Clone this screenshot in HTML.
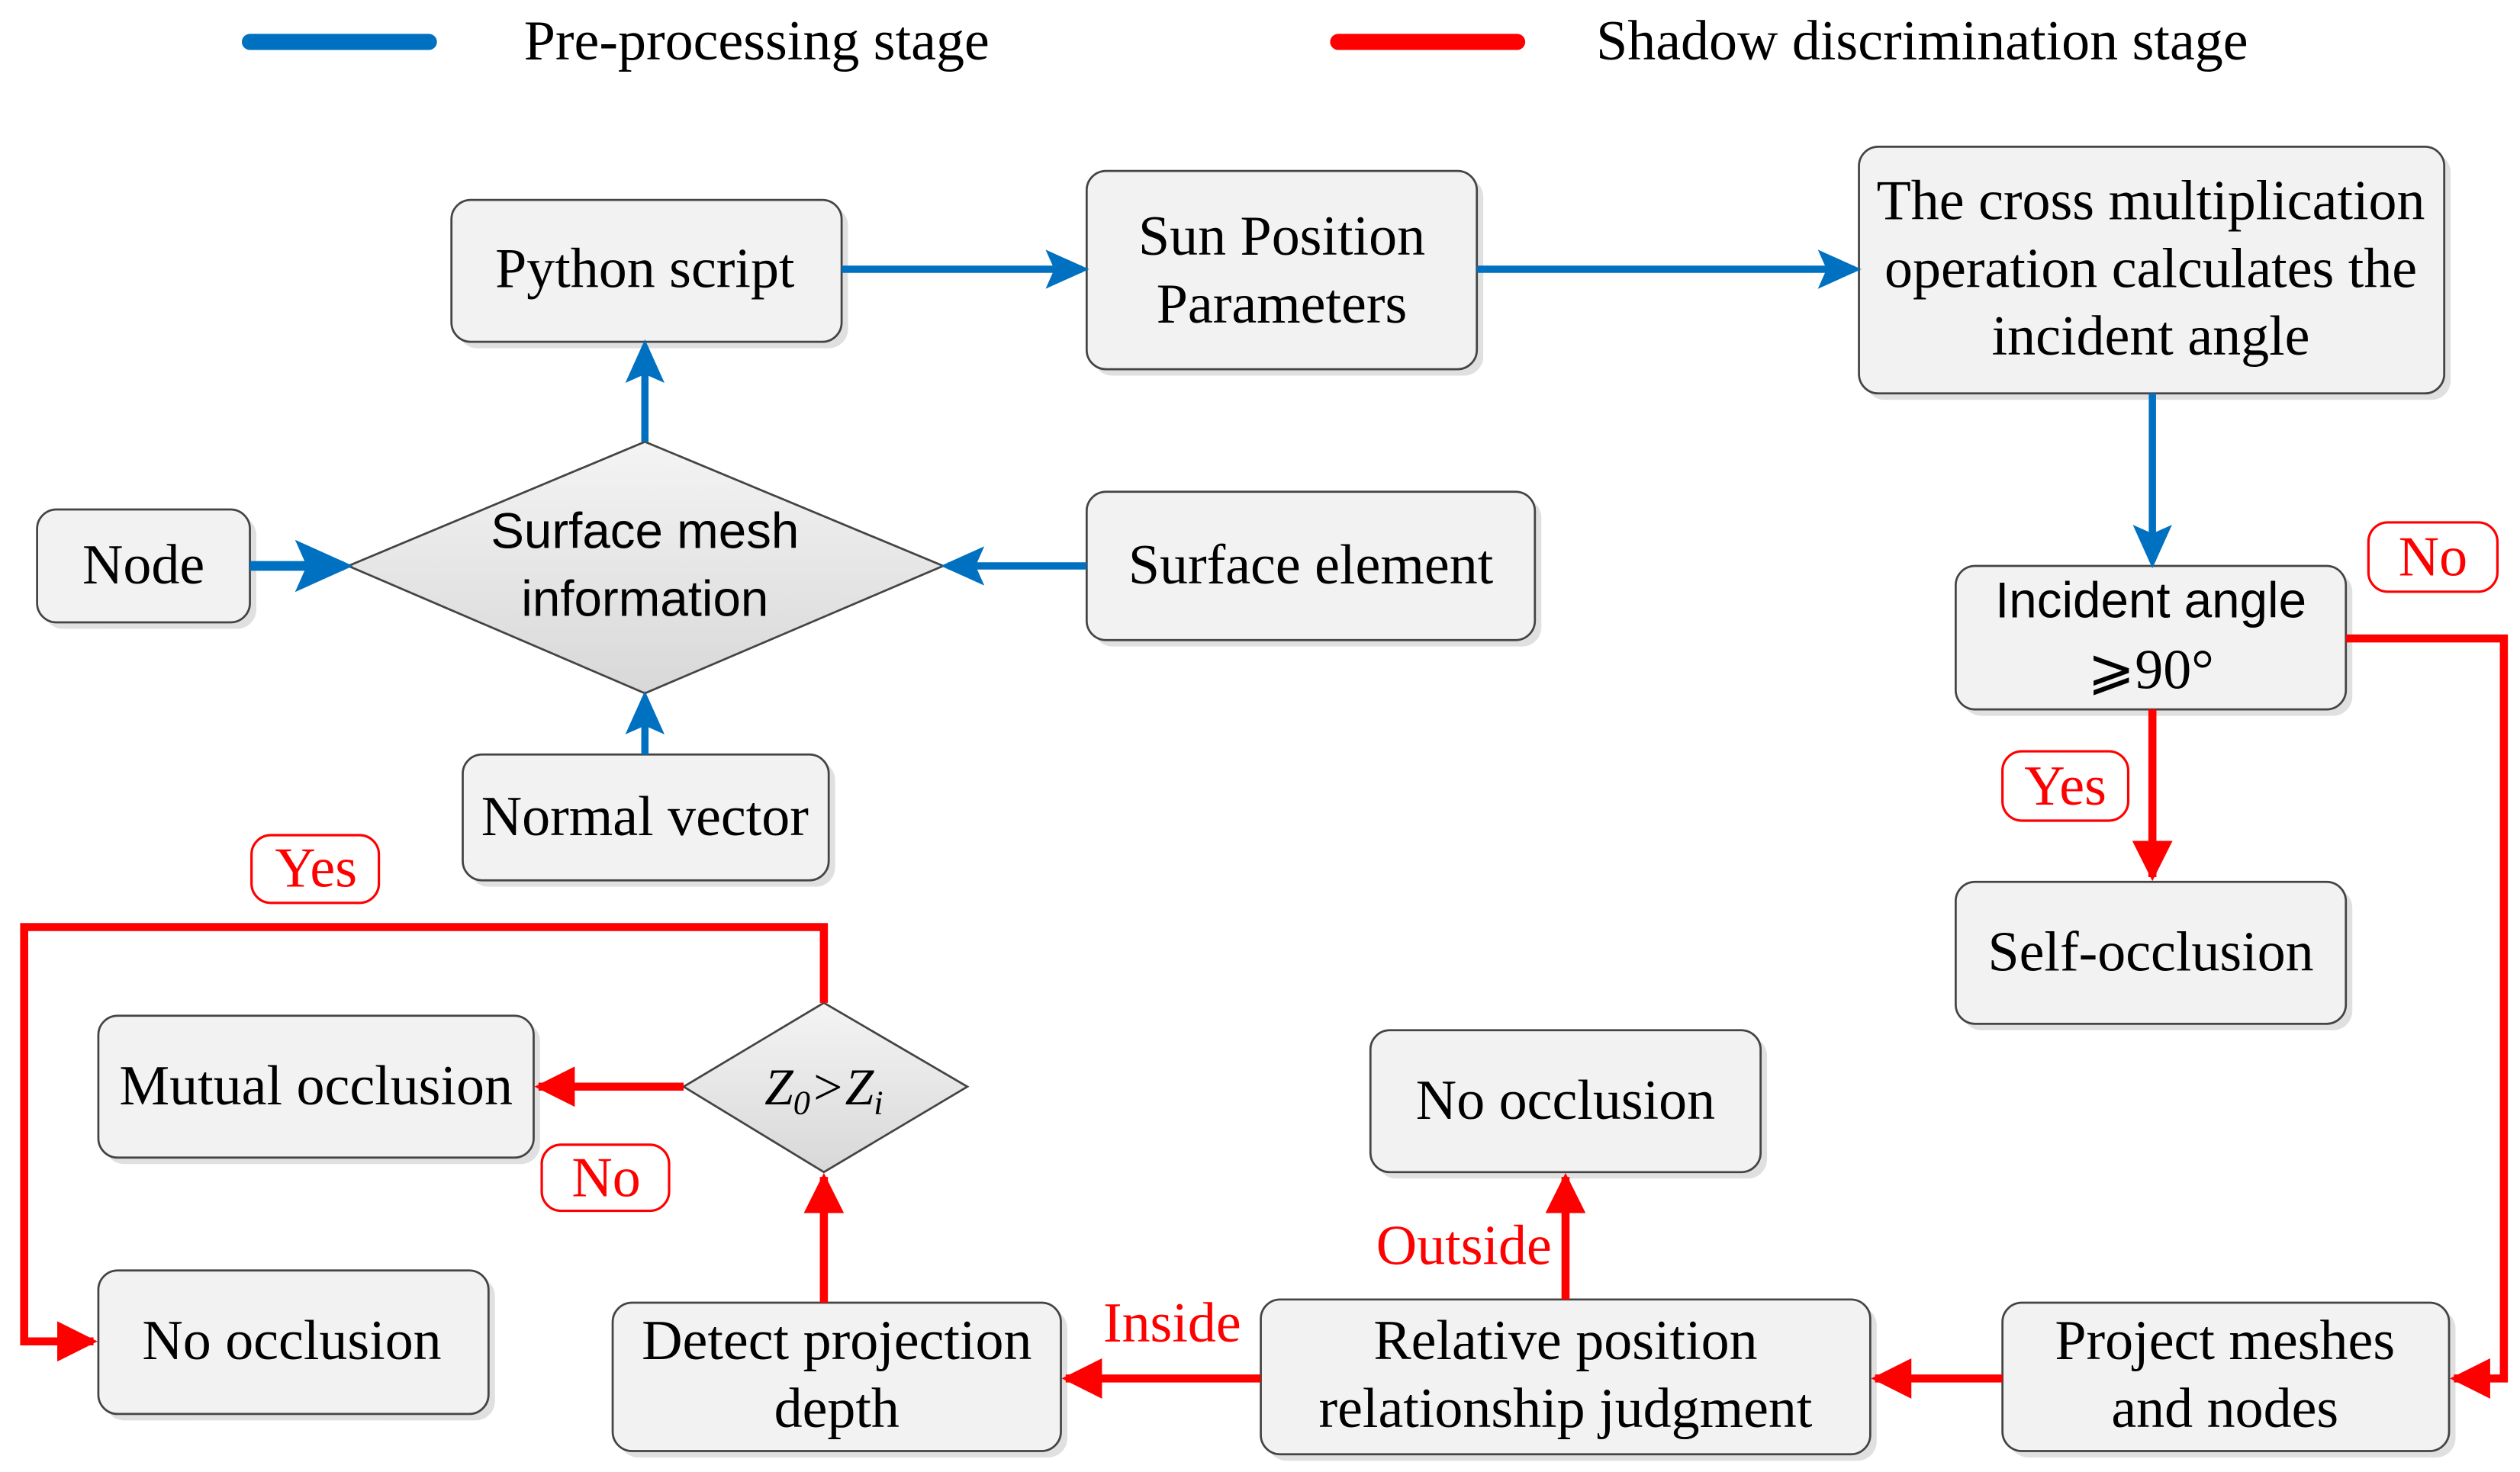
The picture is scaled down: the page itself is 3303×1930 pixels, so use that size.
<!DOCTYPE html>
<html><head><meta charset="utf-8"><style>html,body{margin:0;padding:0;background:#fff}svg{display:block}</style></head>
<body>
<svg width="3303" height="1930" viewBox="0 0 1563 913" preserveAspectRatio="none" xmlns="http://www.w3.org/2000/svg">
<defs>
<linearGradient id="dg" x1="0" y1="0" x2="0" y2="1"><stop offset="0" stop-color="#f4f4f4"/><stop offset="1" stop-color="#d8d8d8"/></linearGradient>
<marker id="ab" markerWidth="6" markerHeight="6" refX="5" refY="3" orient="auto" markerUnits="strokeWidth"><path d="M0,0.3 L6,3 L0,5.7 L1.2,3 z" fill="#0070c0"/></marker>
<marker id="ar" markerWidth="5" markerHeight="5" refX="4.5" refY="2.5" orient="auto" markerUnits="strokeWidth"><path d="M0,0 L5,2.5 L0,5 z" fill="#ff0000"/></marker>
</defs>
<g font-family="Liberation Serif, serif" font-size="35" text-anchor="middle">
<line x1="155" y1="26" x2="266" y2="26" stroke="#0070c0" stroke-width="10" stroke-linecap="round"/>
<text x="325" y="37" text-anchor="start">Pre-processing stage</text>
<line x1="830" y1="26" x2="941" y2="26" stroke="#ff0000" stroke-width="10" stroke-linecap="round"/>
<text x="990" y="37" text-anchor="start">Shadow discrimination stage</text>

<g fill="#f2f2f2" stroke="#444" stroke-width="1.3">
<g fill="#e0e0e0" stroke="none" transform="translate(4,4)">
<rect x="280" y="124" width="242" height="88" rx="12"/>
<rect x="674" y="106" width="242" height="123" rx="12"/>
<rect x="1153" y="91" width="363" height="153" rx="12"/>
<rect x="23" y="316" width="132" height="70" rx="12"/>
<rect x="674" y="305" width="278" height="92" rx="12"/>
<rect x="287" y="468" width="227" height="78" rx="12"/>
<rect x="1213" y="351" width="242" height="89" rx="12"/>
<rect x="1213" y="547" width="242" height="88" rx="12"/>
<rect x="61" y="630" width="270" height="88" rx="12"/>
<rect x="61" y="788" width="242" height="89" rx="12"/>
<rect x="380" y="808" width="278" height="92" rx="12"/>
<rect x="782" y="806" width="378" height="96" rx="12"/>
<rect x="1242" y="808" width="277" height="92" rx="12"/>
<rect x="850" y="639" width="242" height="88" rx="12"/>
</g>
<rect x="280" y="124" width="242" height="88" rx="12"/>
<rect x="674" y="106" width="242" height="123" rx="12"/>
<rect x="1153" y="91" width="363" height="153" rx="12"/>
<rect x="23" y="316" width="132" height="70" rx="12"/>
<rect x="674" y="305" width="278" height="92" rx="12"/>
<rect x="287" y="468" width="227" height="78" rx="12"/>
<rect x="1213" y="351" width="242" height="89" rx="12"/>
<rect x="1213" y="547" width="242" height="88" rx="12"/>
<rect x="61" y="630" width="270" height="88" rx="12"/>
<rect x="61" y="788" width="242" height="89" rx="12"/>
<rect x="380" y="808" width="278" height="92" rx="12"/>
<rect x="782" y="806" width="378" height="96" rx="12"/>
<rect x="1242" y="808" width="277" height="92" rx="12"/>
<rect x="850" y="639" width="242" height="88" rx="12"/>
<polygon points="216,351 400,274 585,351 400,430" fill="url(#dg)"/>
<polygon points="424,674 511,622 600,674 511,727" fill="url(#dg)"/>
</g>

<g fill="none" stroke="#ff0000" stroke-width="1.5">
<rect x="1469" y="324" width="80" height="43" rx="12"/>
<rect x="1242" y="466" width="78" height="43" rx="12"/>
<rect x="156" y="518" width="79" height="42" rx="12"/>
<rect x="336" y="710" width="79" height="41" rx="12"/>
</g>

<g stroke="#0070c0" stroke-width="4.5" fill="none" marker-end="url(#ab)">
<line x1="522" y1="167" x2="671" y2="167"/>
<line x1="916" y1="167" x2="1150" y2="167"/>
<line x1="1335" y1="244" x2="1335" y2="348"/>
<line x1="400" y1="274" x2="400" y2="215"/>
<line x1="155" y1="351" x2="213" y2="351" stroke-width="6"/>
<line x1="674" y1="351" x2="588" y2="351"/>
<line x1="400" y1="468" x2="400" y2="433"/>
</g>
<g stroke="#ff0000" stroke-width="5" fill="none" marker-end="url(#ar)">
<polyline points="1455,396 1553,396 1553,855 1522,855"/>
<line x1="1335" y1="440" x2="1335" y2="544"/>
<line x1="1242" y1="855" x2="1163" y2="855"/>
<line x1="782" y1="855" x2="661" y2="855"/>
<line x1="971" y1="806" x2="971" y2="730"/>
<line x1="511" y1="808" x2="511" y2="730"/>
<line x1="424" y1="674" x2="334" y2="674"/>
<polyline points="511,622 511,575 15,575 15,832 58,832"/>
</g>

<text x="400" y="178">Python script</text>
<text x="795" y="158">Sun Position</text>
<text x="795" y="200">Parameters</text>
<text x="1334" y="136">The cross multiplication</text>
<text x="1334" y="178">operation calculates the</text>
<text x="1334" y="220">incident angle</text>
<text x="89" y="362">Node</text>
<text x="813" y="362">Surface element</text>
<text x="400" y="518">Normal vector</text>
<g font-family="Liberation Sans, sans-serif" font-size="31">
<text x="400" y="340">Surface mesh</text>
<text x="400" y="382">information</text>
<text x="1334" y="383">Incident angle</text>
</g>
<text x="1334" y="427">⩾90°</text>
<text x="1334" y="602">Self-occlusion</text>
<text x="196" y="685">Mutual occlusion</text>
<text x="181" y="843">No occlusion</text>
<text x="971" y="694">No occlusion</text>
<text x="519" y="843">Detect projection</text>
<text x="519" y="885">depth</text>
<text x="971" y="843">Relative position</text>
<text x="971" y="885">relationship judgment</text>
<text x="1380" y="843">Project meshes</text>
<text x="1380" y="885">and nodes</text>
<text x="511" y="685" font-style="italic" font-size="32">Z<tspan font-size="21" dy="6">0</tspan><tspan dy="-6">&gt;Z</tspan><tspan font-size="21" dy="6">i</tspan></text>
<g fill="#ff0000">
<text x="1509" y="357">No</text>
<text x="1281" y="499">Yes</text>
<text x="196" y="550">Yes</text>
<text x="376" y="742">No</text>
<text x="908" y="784">Outside</text>
<text x="727" y="832">Inside</text>
</g>
</g>
</svg>
</body></html>
